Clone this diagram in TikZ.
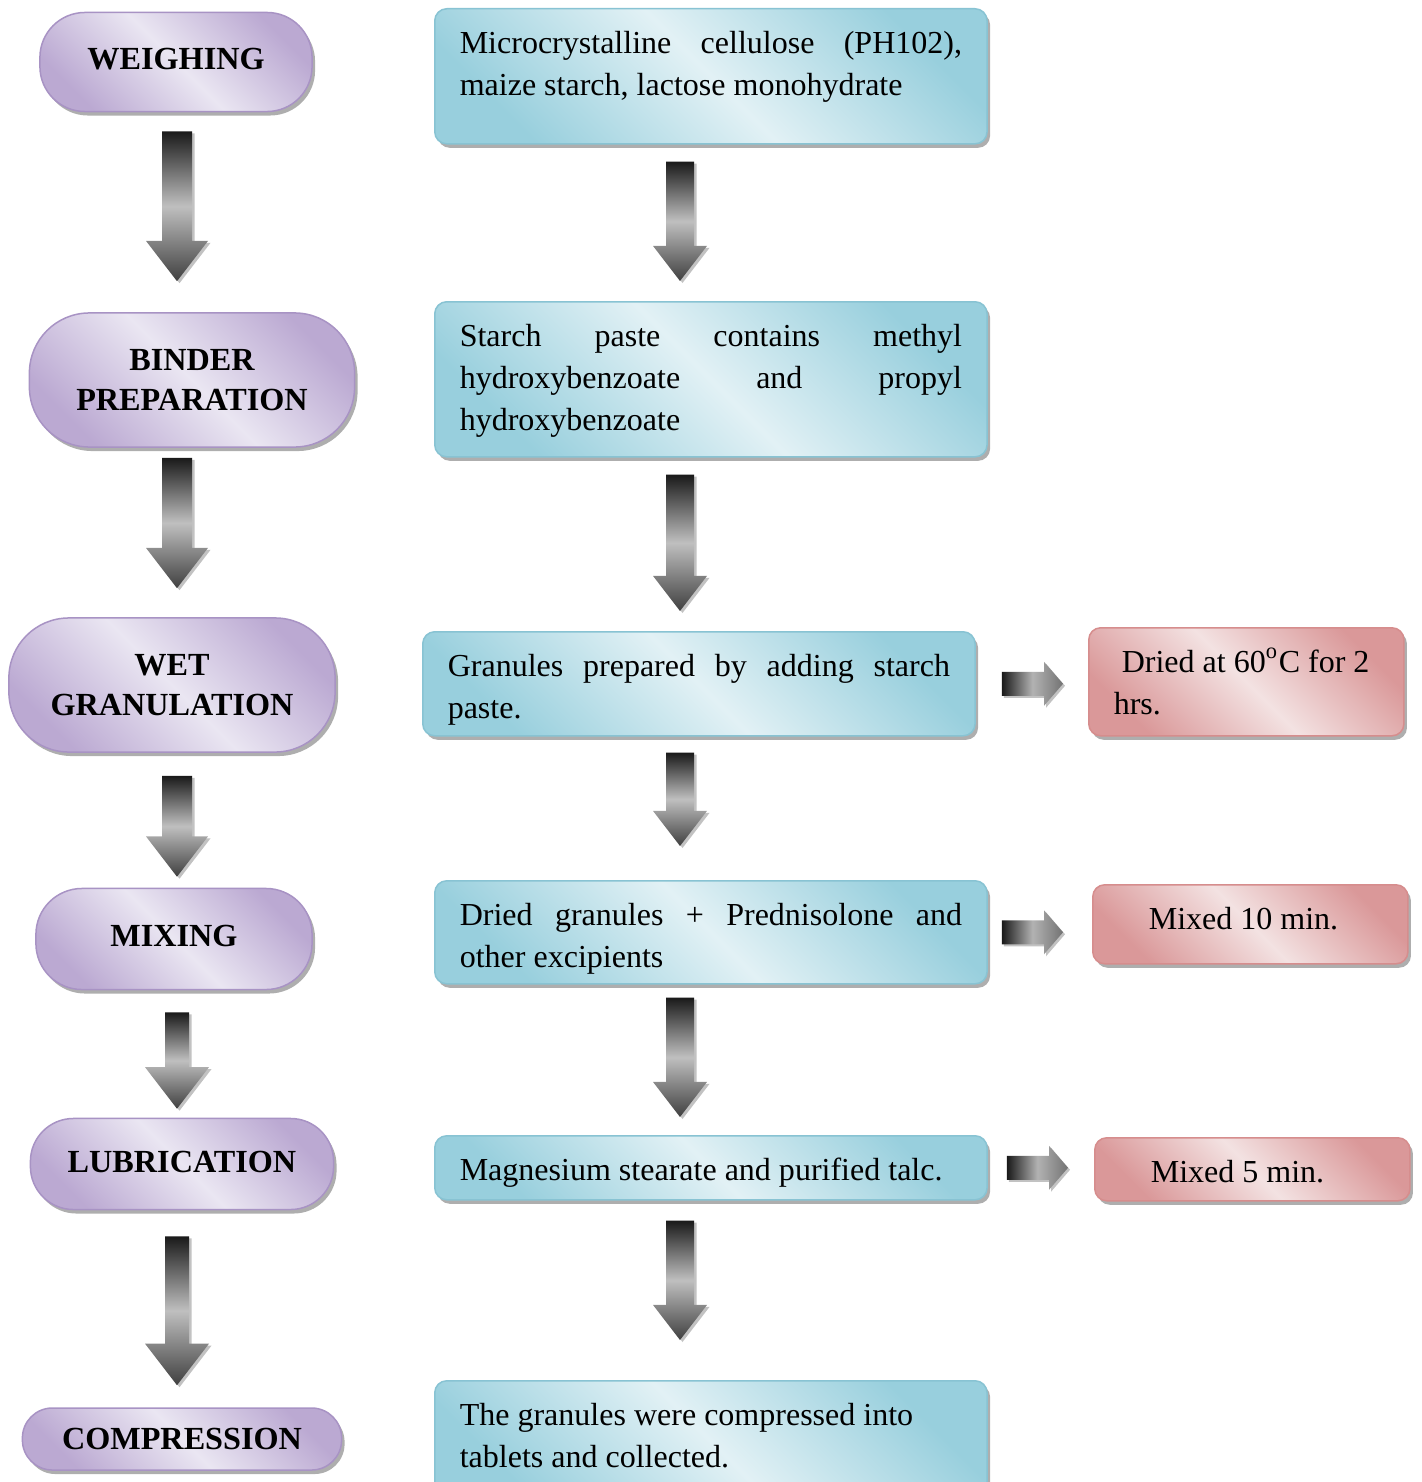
\documentclass[tikz,border=0pt]{standalone}
\usepackage{fontspec}
\setmainfont{Liberation Serif}[BoldFont={Liberation Serif Bold}]
\usetikzlibrary{calc}
\usetikzlibrary{shadows}
\pgfdeclarelayer{edgelayer}
\pgfdeclarelayer{nodelayer}
\pgfsetlayers{edgelayer,nodelayer,main}
\definecolor{stageDark}{HTML}{BBA9D2}
\definecolor{stageLight}{HTML}{EAE6F2}
\definecolor{stageLine}{HTML}{A893C4}
\definecolor{detailDark}{HTML}{98CFDD}
\definecolor{detailLight}{HTML}{E2F1F5}
\definecolor{detailLine}{HTML}{88C3D3}
\definecolor{remarkDark}{HTML}{DA9899}
\definecolor{remarkLight}{HTML}{F3E2E2}
\definecolor{remarkLine}{HTML}{D68D8D}
\tikzstyle{stage}=[draw=stageLine,line width=0.15mm,top color=stageDark,bottom color=stageDark,middle color=stageLight,shading angle=-45,drop shadow={shadow xshift=0.3mm,shadow yshift=-0.4mm,fill=black!45,opacity=0.7},font=\fontsize{3.22mm}{4.0mm}\selectfont\bfseries,align=center,inner sep=0pt]
\tikzstyle{detail}=[draw=detailLine,line width=0.15mm,rounded corners=1.2mm,top color=detailDark,bottom color=detailDark,middle color=detailLight,shading angle=-45,drop shadow={shadow xshift=0.3mm,shadow yshift=-0.4mm,fill=black!45,opacity=0.7},anchor=north west,inner xsep=2.5mm,inner ysep=1.5mm]
\tikzstyle{remark}=[draw=remarkLine,line width=0.15mm,rounded corners=1.2mm,top color=remarkDark,bottom color=remarkDark,middle color=remarkLight,shading angle=-45,drop shadow={shadow xshift=0.3mm,shadow yshift=-0.4mm,fill=black!45,opacity=0.7},anchor=north west,inner xsep=2.5mm,inner ysep=1.5mm]
\tikzstyle{flowdown}=[top color=black!90,bottom color=black!75,middle color=black!25,drop shadow={shadow xshift=0.25mm,shadow yshift=-0.2mm,fill=black!40,opacity=0.6}]
\tikzstyle{flowright}=[left color=black!90,right color=black!55,middle color=black!30,drop shadow={shadow xshift=0.2mm,shadow yshift=-0.2mm,fill=black!40,opacity=0.6}]
% text block of a box: width, height, text
\newcommand{\boxtext}[3]{\parbox[c][#2][t]{#1}{\strut #3}}
% column, from, to, top gap, bottom gap, half shaft, half head
\newcommand{\vflow}[7]{%
  \shade[style=flowdown] ($(#1 |- #2.south)+(-#6,#4)$) -- ($(#1 |- #2.south)+(#6,#4)$)
    -- ($(#1 |- #3.north)+(#6,-#5-1.3*#7)$) -- ($(#1 |- #3.north)+(#7,-#5-1.3*#7)$)
    -- ($(#1 |- #3.north)+(0,-#5)$)
    -- ($(#1 |- #3.north)+(-#7,-#5-1.3*#7)$) -- ($(#1 |- #3.north)+(-#6,-#5-1.3*#7)$) -- cycle;}
% from, to, left gap, right gap
\newcommand{\hflow}[4]{%
  \shade[style=flowright] ($(#1.east)+(#3,-12)$) -- ($(#1.east -| #2.west)+(-#4-19,-12)$)
    -- ($(#1.east -| #2.west)+(-#4-19,-22)$) -- ($(#1.east -| #2.west)+(-#4,0)$)
    -- ($(#1.east -| #2.west)+(-#4-19,22)$) -- ($(#1.east -| #2.west)+(-#4-19,12)$)
    -- ($(#1.east)+(#3,12)$) -- cycle;}

\begin{document}
\begin{tikzpicture}[x=0.01cm,y=-0.01cm,font=\fontsize{3.2mm}{4.2mm}\selectfont]
	\useasboundingbox (0,0) rectangle (1421,1482);
	\coordinate (colL) at (177,0);
	\coordinate (colM) at (680,0);
	\begin{pgfonlayer}{nodelayer}
		\node [style=stage, minimum width=27.2mm, minimum height=9.9mm, rounded corners=4.5mm] (weigh) at (176,62) {\raisebox{0.6mm}{WEIGHING}};
		\node [style=stage, minimum width=32.5mm, minimum height=13.4mm, rounded corners=6mm] (binder) at (192,380) {BINDER\\PREPARATION};
		\node [style=stage, minimum width=32.6mm, minimum height=13.4mm, rounded corners=6mm] (wet) at (172,685) {WET\\GRANULATION};
		\node [style=stage, minimum width=27.6mm, minimum height=10.1mm, rounded corners=4.6mm] (mix) at (174,939) {\raisebox{0.6mm}{MIXING}};
		\node [style=stage, minimum width=30.3mm, minimum height=9.1mm, rounded corners=4.3mm] (lub) at (182,1164) {\raisebox{0.4mm}{LUBRICATION}};
		\node [style=stage, minimum width=31.9mm, minimum height=6.2mm, rounded corners=3mm] (comp) at (182,1439) {COMPRESSION};

		\node [style=detail] (excip) at (434,8) {\boxtext{50.2mm}{10.5mm}{Microcrystalline cellulose (PH102),\linebreak maize starch, lactose monohydrate}};
		\node [style=detail] (paste) at (434,301) {\boxtext{50.2mm}{12.5mm}{Starch paste contains methyl\linebreak hydroxybenzoate and propyl\linebreak hydroxybenzoate}};
		\node [style=detail] (granules) at (422,631) {\boxtext{50.2mm}{7.4mm}{Granules prepared by adding starch\linebreak paste.}};
		\node [style=detail] (blend) at (434,880) {\boxtext{50.2mm}{7.3mm}{Dried granules + Prednisolone and\linebreak other excipients}};
		\node [style=detail] (talc) at (434,1135) {\boxtext{50.2mm}{3.4mm}{Magnesium stearate and purified talc.}};
		\node [style=detail] (tablets) at (434,1380) {\boxtext{50.2mm}{9mm}{\raggedright The granules were compressed into\\tablets and collected.}};

		\node [style=remark] (dry) at (1088,627) {\boxtext{26.5mm}{7.8mm}{\raggedright\ Dried at 60\textsuperscript{o}C for 2\\hrs.}};
		\node [style=remark] (mixten) at (1092,884) {\boxtext{26.5mm}{4.9mm}{\hspace{3.1mm}Mixed 10 min.}};
		\node [style=remark] (mixfive) at (1094,1137) {\boxtext{26.5mm}{3.3mm}{\hspace{3.1mm}Mixed 5 min.}};
	\end{pgfonlayer}
	\begin{pgfonlayer}{edgelayer}
		\vflow{colL}{weigh}{binder}{19}{31}{15}{31}
		\vflow{colL}{binder}{wet}{10}{29}{15}{31}
		\vflow{colL}{wet}{mix}{23}{11}{15}{31}
		\vflow{colL}{mix}{lub}{22}{9}{12}{32}
		\vflow{colL}{lub}{comp}{26}{22}{12}{32}

		\vflow{colM}{excip}{paste}{17}{20}{14}{27}
		\vflow{colM}{paste}{granules}{17}{20}{14}{27}
		\vflow{colM}{granules}{blend}{16}{34}{14}{27}
		\vflow{colM}{blend}{talc}{13}{18}{14}{27}
		\vflow{colM}{talc}{tablets}{20}{40}{14}{27}

		\hflow{granules}{dry}{26}{25}
		\hflow{blend}{mixten}{14}{29}
		\hflow{talc}{mixfive}{19}{26}
	\end{pgfonlayer}
\end{tikzpicture}
\end{document}
